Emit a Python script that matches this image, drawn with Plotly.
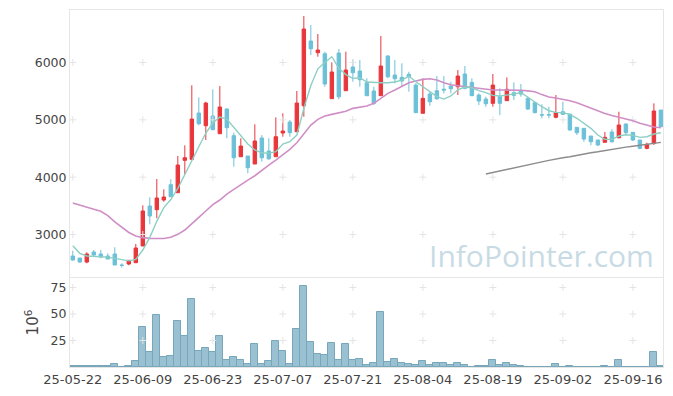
import plotly.graph_objects as go

dates = [
    "25-05-22", "25-05-23", "25-05-26", "25-05-27", "25-05-28", "25-05-29", "25-05-30",
    "25-06-02", "25-06-04", "25-06-05", "25-06-09", "25-06-10", "25-06-11", "25-06-12",
    "25-06-13", "25-06-16", "25-06-17", "25-06-18", "25-06-19", "25-06-20", "25-06-23",
    "25-06-24", "25-06-25", "25-06-26", "25-06-27", "25-06-30", "25-07-01", "25-07-02",
    "25-07-03", "25-07-04", "25-07-07", "25-07-08", "25-07-09", "25-07-10", "25-07-11",
    "25-07-14", "25-07-15", "25-07-16", "25-07-17", "25-07-18", "25-07-21", "25-07-22",
    "25-07-23", "25-07-24", "25-07-25", "25-07-28", "25-07-29", "25-07-30", "25-07-31",
    "25-08-01", "25-08-04", "25-08-05", "25-08-06", "25-08-07", "25-08-08", "25-08-11",
    "25-08-12", "25-08-13", "25-08-14", "25-08-18", "25-08-19", "25-08-20", "25-08-21",
    "25-08-22", "25-08-25", "25-08-26", "25-08-27", "25-08-28", "25-08-29", "25-09-01",
    "25-09-02", "25-09-03", "25-09-04", "25-09-05", "25-09-08", "25-09-09", "25-09-10",
    "25-09-11", "25-09-12", "25-09-15", "25-09-16", "25-09-17", "25-09-18", "25-09-19",
    "25-09-22",
]

open_ = [2625, 2590, 2520, 2695, 2660, 2625, 2660, 2465, 2486, 2508,
         2800, 3497, 3433, 3602, 3869, 3729, 4294, 4311, 5119, 4898,
         5067, 4758, 5189, 4724, 4357, 4369, 4230, 4683, 4456, 4357,
         4770, 4962, 4793, 5246, 6375, 6171, 6153, 5369, 6165, 5508,
         5921, 5851, 5648, 5503, 5421, 6113, 5782, 5741, 5794, 5607,
         5114, 5450, 5508, 5535, 5590, 5578, 5799, 5654, 5433, 5363,
         5288, 5404, 5334, 5473, 5503, 5375, 5299, 5090, 5090, 5044,
         5142, 5101, 4870, 4852, 4718, 4648, 4608, 4788, 4688, 4927,
         4782, 4648, 4503, 4590, 5171]
high = [2717, 2590, 2690, 2730, 2730, 2672, 2777, 2498, 2555, 2834,
        3509, 3649, 3968, 3788, 3963, 4369, 4556, 5602, 5393, 5316,
        5532, 5590, 5200, 4776, 4678, 4369, 4922, 4735, 4678, 5044,
        5114, 4997, 5503, 6811, 6654, 6497, 6188, 6003, 6235, 6188,
        6055, 6043, 5724, 5578, 6462, 6130, 6043, 5986, 5839, 5637,
        5724, 5491, 5764, 5764, 5665, 5869, 5939, 5724, 5462, 5404,
        5799, 5550, 5741, 5654, 5625, 5404, 5316, 5271, 5229, 5433,
        5316, 5101, 4870, 4852, 4718, 4648, 4788, 4835, 5142, 4939,
        4782, 4648, 4601, 5288, 5171]
low = [2547, 2508, 2498, 2625, 2585, 2573, 2468, 2425, 2463, 2508,
       2800, 3178, 3283, 3572, 3659, 3729, 4050, 4299, 4904, 4648,
       4828, 4758, 4678, 4183, 4357, 4067, 4230, 4270, 4299, 4357,
       4706, 4706, 4793, 5054, 6130, 6101, 5578, 5369, 5358, 5508,
       5665, 5578, 5421, 5258, 5421, 5724, 5637, 5578, 5491, 5125,
       5114, 5246, 5346, 5462, 5462, 5433, 5532, 5421, 5258, 5229,
       5229, 5084, 5334, 5346, 5404, 5171, 5114, 5027, 5027, 5027,
       5096, 4810, 4735, 4619, 4556, 4543, 4608, 4601, 4678, 4753,
       4631, 4486, 4486, 4561, 4880]
close = [2555, 2520, 2660, 2643, 2608, 2573, 2468, 2463, 2550, 2765,
         3410, 3323, 3637, 3654, 3659, 4212, 4339, 5014, 4932, 5293,
         4828, 5224, 4863, 4339, 4543, 4165, 4631, 4339, 4322, 4706,
         4805, 4776, 5293, 6584, 6240, 6218, 5625, 5834, 5403, 5869,
         5822, 5700, 5421, 5288, 5939, 5752, 5717, 5677, 5752, 5125,
         5375, 5316, 5368, 5520, 5543, 5764, 5550, 5421, 5328, 5281,
         5607, 5288, 5532, 5427, 5450, 5189, 5125, 5084, 5084, 5125,
         5096, 4823, 4776, 4666, 4619, 4561, 4695, 4619, 4910, 4776,
         4648, 4503, 4573, 5154, 4880]

ma5 = [2805, 2672, 2625, 2625, 2613, 2605, 2585, 2555, 2540, 2567,
       2730, 2950, 3230, 3470, 3610, 3806, 4038, 4287, 4531, 4770,
       4945, 5050, 5015, 4870, 4705, 4578, 4474, 4425, 4416, 4444,
       4578, 4619, 4735, 5200, 5600, 5890, 6000, 6101, 5898, 5790,
       5724, 5735, 5660, 5648, 5648, 5648, 5660, 5694, 5764, 5665,
       5578, 5491, 5404, 5363, 5416, 5525, 5572, 5560, 5510, 5475,
       5427, 5416, 5430, 5450, 5479, 5392, 5316, 5229, 5159, 5130,
       5125, 5096, 5027, 4939, 4852, 4735, 4660, 4660, 4718, 4741,
       4730, 4695, 4706, 4753, 4776]
ma20 = [3550, 3509, 3478, 3439, 3405, 3330, 3220, 3120, 3035, 2975,
        2945, 2933, 2930, 2930, 2951, 3003, 3078, 3195, 3300, 3410,
        3520, 3602, 3706, 3788, 3875, 3950, 4025, 4125, 4212, 4299,
        4386, 4485, 4601, 4765, 4910, 5009, 5067, 5096, 5125, 5150,
        5200, 5225, 5241, 5288, 5375, 5462, 5520, 5578, 5648, 5677,
        5706, 5717, 5694, 5648, 5613, 5595, 5580, 5567, 5550, 5532,
        5520, 5520, 5520, 5520, 5515, 5505, 5491, 5440, 5400, 5381,
        5363, 5334, 5299, 5250, 5200, 5155, 5110, 5075, 5044, 5014,
        4985, 4939, 4904, 4875, 4863]
ma60 = [None] * 59 + [4055, 4083, 4110, 4135, 4160, 4187, 4213, 4240, 4267, 4293,
                      4320, 4338, 4357, 4383, 4410, 4427, 4444, 4466, 4488, 4510,
                      4525, 4540, 4558, 4575, 4592, 4608]

volume = [0.5, 0.5, 0.5, 0.5, 0.5, 0.5, 3, 0, 1, 5.4,
          38, 14.6, 48.7, 9.8, 10.8, 43, 28.8, 64, 15.5, 18.4,
          14.6, 28.8, 7, 9.8, 7, 3, 22, 3, 5.4, 25,
          15.5, 3, 35.4, 76, 24, 12.7, 11.7, 23, 7, 22,
          7, 8, 2, 4, 51.6, 5, 8, 4, 3, 2,
          6, 2, 4, 4, 2, 4, 2, 0.3, 1.2, 0.5,
          7, 2, 4, 2, 1, 0.3, 0.3, 0.3, 0.3, 3,
          0.3, 1, 0.3, 0.3, 0.3, 0.3, 1, 0.3, 7, 0.3,
          0.3, 0.3, 0.3, 14.6, 1]

price_ticks = [3000, 4000, 5000, 6000]
vol_ticks = [25, 50, 75]
x_ticks = dates[::10]

RED = "#e8363b"
BLUE = "#6cc0d8"
FRAME = "#e6e6e6"
TXT = "#444444"
FONT = "DejaVu Sans"

fig = go.Figure()

# faint "+" grid markers at tick intersections
gx, gy = [], []
for xv in x_ticks:
    for yv in price_ticks:
        gx.append(xv); gy.append(yv)
fig.add_trace(go.Scatter(x=gx, y=gy, mode="markers", xaxis="x", yaxis="y",
                         marker=dict(symbol="cross-thin", size=5,
                                     line=dict(color="#e4e4e4", width=1)),
                         hoverinfo="skip", showlegend=False))
gx2, gy2 = [], []
for xv in x_ticks:
    for yv in vol_ticks:
        gx2.append(xv); gy2.append(yv)
fig.add_trace(go.Scatter(x=gx2, y=gy2, mode="markers", xaxis="x2", yaxis="y2",
                         marker=dict(symbol="cross-thin", size=5,
                                     line=dict(color="#e4e4e4", width=1)),
                         hoverinfo="skip", showlegend=False))

fig.add_trace(go.Scatter(x=dates, y=ma20, mode="lines", xaxis="x", yaxis="y",
                         line=dict(color="#cf8fc6", width=1.6), showlegend=False))
fig.add_trace(go.Scatter(x=dates, y=ma60, mode="lines", xaxis="x", yaxis="y",
                         line=dict(color="#8c8c8c", width=1.4), showlegend=False))
fig.add_trace(go.Scatter(x=dates, y=ma5, mode="lines", xaxis="x", yaxis="y",
                         line=dict(color="#8ccfc3", width=1.4), showlegend=False))

fig.add_trace(go.Candlestick(
    x=dates, open=open_, high=high, low=low, close=close,
    xaxis="x", yaxis="y",
    increasing=dict(line=dict(color=RED, width=1), fillcolor=RED),
    decreasing=dict(line=dict(color=BLUE, width=1), fillcolor=BLUE),
    showlegend=False,
))

fig.add_trace(go.Bar(x=dates, y=volume, xaxis="x2", yaxis="y2",
                     marker=dict(color="#9ac1d1", line=dict(color="#78a6ba", width=1)),
                     showlegend=False))

fig.add_annotation(text="InfoPointer.com", xref="paper", yref="paper",
                   x=0.988, y=0.311, xanchor="right", yanchor="middle",
                   showarrow=False,
                   font=dict(family="Open Sans", size=30, color="#c8dbe5"))

# the page body adds an 8px offset, so the figure is 8px smaller than the window
xr = [-0.4, 84.3]
fig.update_layout(
    width=665, height=388,
    margin=dict(l=62, r=10, t=2, b=29, autoexpand=False),
    paper_bgcolor="white", plot_bgcolor="white",
    font=dict(family=FONT, size=12.5, color=TXT),
    bargap=0,
    xaxis=dict(domain=[0, 1], type="category", categoryorder="array", categoryarray=dates,
               range=xr, anchor="y", showticklabels=False, showgrid=False,
               showline=True, mirror=True, linecolor=FRAME, linewidth=1,
               zeroline=False, rangeslider=dict(visible=False), ticks=""),
    yaxis=dict(domain=[0.2521, 1], range=[2259, 6916], anchor="x",
               tickvals=price_ticks, showgrid=False, zeroline=False,
               showline=True, mirror=True, linecolor=FRAME, linewidth=1, ticks=""),
    xaxis2=dict(domain=[0, 1], type="category", categoryorder="array", categoryarray=dates,
                range=xr, anchor="y2", tickvals=x_ticks, showgrid=False,
                showline=True, mirror=True, linecolor=FRAME, linewidth=1,
                zeroline=False, ticks="", tickfont=dict(size=13)),
    yaxis2=dict(domain=[0, 0.2493], range=[0, 84], anchor="x2",
                tickvals=vol_ticks, showgrid=False, zeroline=False,
                showline=True, mirror=True, linecolor=FRAME, linewidth=1, ticks="",
                title=dict(text="10<sup>6</sup>", standoff=8)),
)

fig.write_html("out.html")
